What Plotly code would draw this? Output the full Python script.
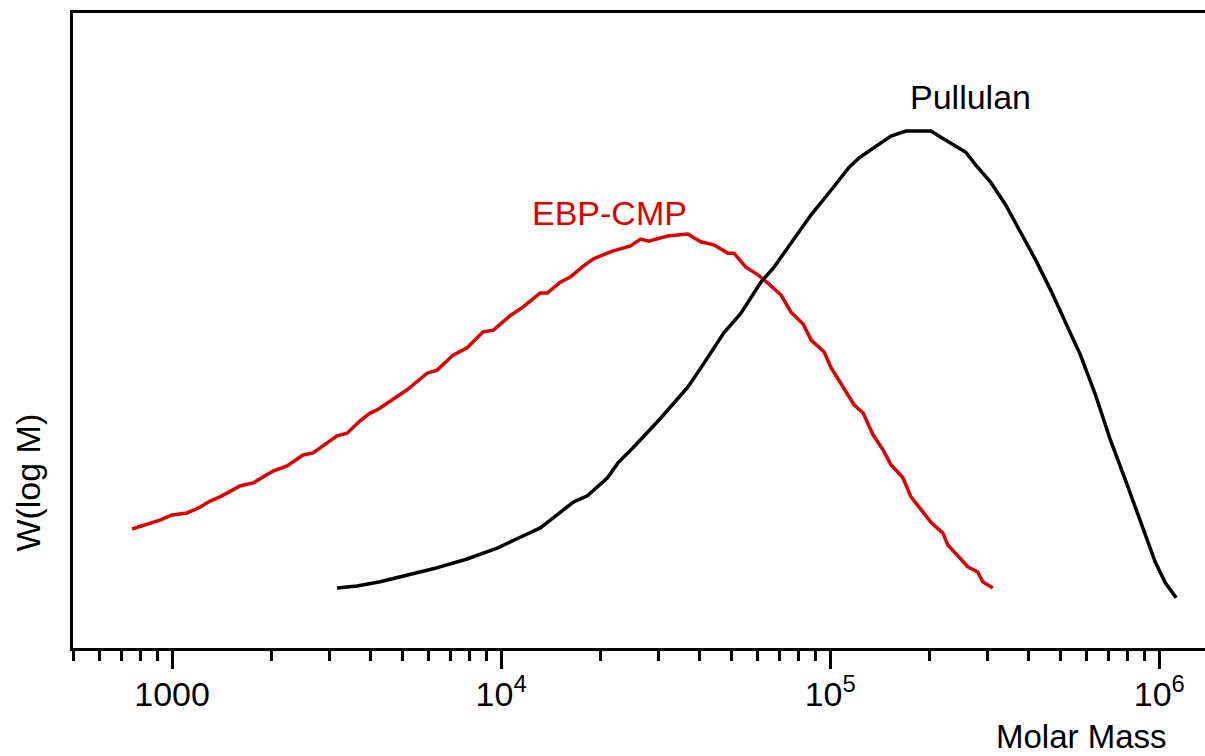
import plotly.graph_objects as go

# EBP-CMP molar mass distribution (Molar Mass, W(log M) normalised)
ebp_mass = [756, 858, 919, 1000, 1111, 1216, 1305, 1399, 1609, 1763, 2028, 2236, 2502, 2683,
            2877, 3173, 3403, 3727, 3998, 4200, 4503, 5180, 5958, 6390, 7147, 7884, 8817, 9456,
            10650, 11670, 13150, 13810, 15130, 16230, 17780, 19080, 21800, 24740, 26540, 28070,
            32070, 36910, 40440, 44300, 48870, 50970, 55440, 60330, 64710, 70920, 76040, 82740,
            87520, 95880, 100700, 110300, 118200, 125900, 135000, 144700, 153000, 166400, 176000,
            191300, 202400, 220000, 227800, 246000, 261900, 280800, 290800, 311900]
ebp_w = [0.230, 0.240, 0.247, 0.257, 0.261, 0.272, 0.284, 0.292, 0.313, 0.319, 0.342, 0.352,
         0.373, 0.377, 0.390, 0.410, 0.415, 0.439, 0.454, 0.460, 0.473, 0.499, 0.531, 0.537,
         0.566, 0.580, 0.611, 0.614, 0.642, 0.659, 0.686, 0.686, 0.707, 0.717, 0.738, 0.752,
         0.767, 0.777, 0.790, 0.786, 0.796, 0.800, 0.785, 0.779, 0.763, 0.763, 0.736, 0.721,
         0.705, 0.682, 0.649, 0.626, 0.595, 0.572, 0.541, 0.502, 0.470, 0.454, 0.412, 0.383,
         0.354, 0.329, 0.292, 0.263, 0.243, 0.222, 0.199, 0.176, 0.157, 0.147, 0.128, 0.116]

# Pullulan molar mass distribution
pul_mass = [3173, 3650, 4288, 5180, 6215, 7884, 9723, 11430, 13150, 14110, 16580, 18290, 21050,
            22740, 25090, 30530, 36910, 40440, 47520, 53560, 61610, 67510, 76040, 87520, 100700,
            114200, 122400, 137900, 153000, 169900, 186100, 202400, 217000, 240900, 258300,
            277000, 307600, 341500, 379200, 421000, 467300, 519000, 576300, 640000, 710400,
            788900, 876000, 972500, 1043000, 1126000]
pul_w = [0.116, 0.120, 0.128, 0.141, 0.153, 0.172, 0.193, 0.214, 0.232, 0.247, 0.282, 0.294,
         0.329, 0.359, 0.386, 0.444, 0.504, 0.541, 0.609, 0.647, 0.707, 0.736, 0.783, 0.837,
         0.885, 0.929, 0.947, 0.970, 0.989, 0.999, 0.999, 0.999, 0.987, 0.970, 0.958, 0.933,
         0.900, 0.856, 0.804, 0.750, 0.692, 0.630, 0.566, 0.489, 0.402, 0.325, 0.247, 0.166,
         0.126, 0.097]

major_ticks = [1000, 10000, 100000, 1000000]
major_text = ["1000", "10<sup>4</sup>", "10<sup>5</sup>", "10<sup>6</sup>"]
minor_ticks = [m * 10 ** e for e in range(2, 6) for m in range(2, 10) if m * 10 ** e >= 500]

FONT = "Liberation Sans, Arial, Helvetica, sans-serif"
RED = "#e00000"

fig = go.Figure()
fig.add_trace(go.Scatter(x=ebp_mass, y=ebp_w, mode="lines",
                         line=dict(color=RED, width=3.5), showlegend=False))
fig.add_trace(go.Scatter(x=pul_mass, y=pul_w, mode="lines",
                         line=dict(color="black", width=3.5), showlegend=False))

fig.update_layout(
    width=1205, height=756,
    margin=dict(l=73, r=0, t=13, b=108),
    paper_bgcolor="white", plot_bgcolor="white",
    font=dict(family=FONT, size=34, color="black"),
    xaxis=dict(
        type="log", range=[2.69897, 6.139],
        showline=True, linecolor="black", linewidth=3, mirror=True,
        showgrid=False, zeroline=False,
        ticks="outside", ticklen=18, tickwidth=3, tickcolor="black",
        tickmode="array", tickvals=major_ticks, ticktext=major_text,
        tickfont=dict(family=FONT, size=34, color="black"),
        ticklabelstandoff=-4,
        minor=dict(tickmode="array", tickvals=minor_ticks, ticks="outside",
                   ticklen=10, tickwidth=3, tickcolor="black", showgrid=False),
    ),
    yaxis=dict(
        range=[0, 1.227], showline=True, linecolor="black", linewidth=3,
        showgrid=False, zeroline=False, showticklabels=False, ticks="",
    ),
    annotations=[
        dict(text="Molar Mass", xref="paper", yref="paper", x=0.891, y=-0.140,
             xanchor="center", yanchor="middle", showarrow=False,
             font=dict(family=FONT, size=33, color="black")),
        dict(text="W(log M)", xref="paper", yref="paper", x=-0.040, y=0.26,
             xanchor="center", yanchor="middle", textangle=-90, showarrow=False,
             font=dict(family=FONT, size=34, color="black")),
        dict(text="Pullulan", xref="paper", yref="paper", x=0.793, y=0.868,
             xanchor="center", yanchor="middle", showarrow=False,
             font=dict(family=FONT, size=34, color="black")),
        dict(text="EBP-CMP", xref="paper", yref="paper", x=0.4735, y=0.685,
             xanchor="center", yanchor="middle", showarrow=False,
             font=dict(family=FONT, size=34, color=RED)),
    ],
)

fig.write_html(
    "out.html",
    config={"displayModeBar": False},
    post_script="document.body.style.margin='0';document.body.style.overflow='hidden';",
)
